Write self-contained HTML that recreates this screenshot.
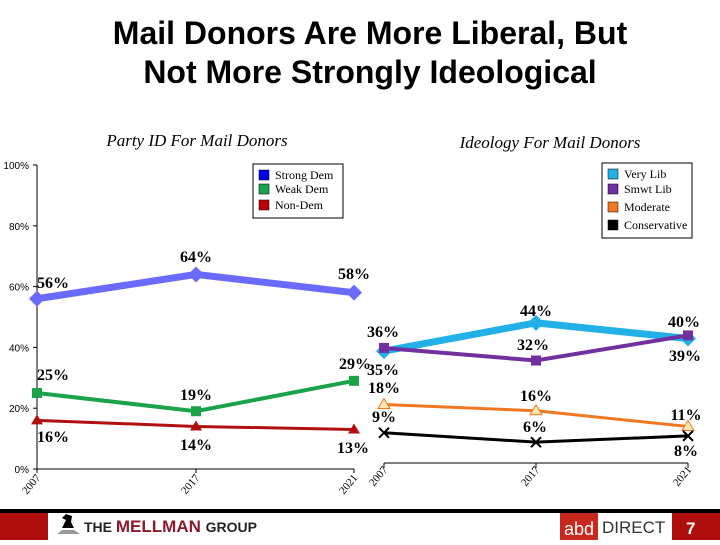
<!DOCTYPE html>
<html><head><meta charset="utf-8"><style>
body{margin:0;width:720px;height:540px;background:#fff;overflow:hidden;font-family:"Liberation Serif",serif}
</style></head><body>
<svg id="c" width="720" height="540" xmlns="http://www.w3.org/2000/svg">
<text x="370" y="44" text-anchor="middle" font-family="Liberation Sans,sans-serif" font-weight="bold" font-size="32">Mail Donors Are More Liberal, But</text>
<text x="370" y="83" text-anchor="middle" font-family="Liberation Sans,sans-serif" font-weight="bold" font-size="32">Not More Strongly Ideological</text>
<text x="197" y="146" text-anchor="middle" font-style="italic" font-size="17">Party ID For Mail Donors</text>
<text x="550" y="148" text-anchor="middle" font-style="italic" font-size="17">Ideology For Mail Donors</text>
<g id="g"></g>
<rect x="0" y="509" width="720" height="4" fill="#000"/>
<rect x="0" y="513" width="48" height="27" fill="#b00d0d"/>
<path d="M57 534 L80 534 L74 530 L62 530 Z" fill="#999"/>
<path d="M62 528 L74 528 L71 522 L72 516 L66 514 L62 518 L66 520 Z" fill="#000"/>
<text x="84" y="532" font-family="Liberation Sans,sans-serif" font-weight="bold" font-size="14"><tspan fill="#222">THE </tspan><tspan fill="#8b1a2b" font-size="17"> MELLMAN </tspan><tspan fill="#222">GROUP</tspan></text>
<rect x="560" y="513" width="38" height="27" fill="#c8281e"/>
<text x="579" y="535" text-anchor="middle" fill="#fff" font-family="Liberation Sans,sans-serif" font-size="18">abd</text>
<text x="602" y="533" fill="#333" font-family="Liberation Sans,sans-serif" font-size="17">DIRECT</text>
<rect x="672" y="513" width="48" height="27" fill="#b00d0d"/>
<text x="686" y="534" fill="#fff" font-family="Liberation Sans,sans-serif" font-weight="bold" font-size="17">7</text>
</svg>
<script>
const years=["2007","2017","2021"];
const yTicks=[0,20,40,60,80,100];
const strongDem=[56,64,58], weakDem=[25,19,29], nonDem=[16,14,13];
const veryLib=[35,44,39], smwtLib=[36,32,40], moderate=[18,16,11], conservative=[9,6,8];
const NS="http://www.w3.org/2000/svg", g=document.getElementById('g');
function mk(t,a,txt){const e=document.createElementNS(NS,t);for(const k in a)e.setAttribute(k,a[k]);if(txt!=null)e.textContent=txt;g.appendChild(e);return e;}
const Lx=i=>37+i*(i==1?159:158.5), Ly=v=>469-v*3.04;
const Rx=i=>384+i*152, Ry=v=>461-v*3.14;
let e=mk('line',{x1:37,y1:165,x2:37,y2:469,stroke:'#000'});
e=mk('line',{x1:37,y1:469,x2:354,y2:469,stroke:'#000'});
yTicks.forEach(t=>{mk('line',{x1:33,x2:37,y1:Ly(t),y2:Ly(t),stroke:'#000'});
 e=mk('text',{x:29,y:Ly(t)+4,'text-anchor':'end','font-size':10,'font-family':'Liberation Sans,sans-serif'},t+'%');});
years.forEach((y,i)=>{mk('line',{x1:Lx(i),x2:Lx(i),y1:469,y2:473,stroke:'#000'});
 e=mk('text',{x:0,y:0,'font-size':11,'text-anchor':'end',transform:`translate(${Lx(i)+4},${478}) rotate(-50)`},y);
 e=mk('text',{x:0,y:0,'font-size':11,'text-anchor':'end',transform:`translate(${Rx(i)+4},${470}) rotate(-50)`},y);
 mk('line',{x1:Rx(i),x2:Rx(i),y1:463,y2:468,stroke:'#000'});});
e=mk('line',{x1:384,y1:463,x2:688,y2:463,stroke:'#000'});
function series(vals,X,Y,col,w,marker,name){
 e=mk('polyline',{points:vals.map((v,i)=>X(i)+','+Y(v)).join(' '),fill:'none',stroke:col,'stroke-width':w});
 
 vals.forEach((v,i)=>{const x=X(i),y=Y(v);let m;
  if(marker=='d')m=mk('path',{d:`M${x} ${y-8}L${x+8} ${y}L${x} ${y+8}L${x-8} ${y}Z`,fill:col});
  else if(marker=='s')m=mk('rect',{x:x-5,y:y-5,width:10,height:10,fill:col});
  else if(marker=='t')m=mk('path',{d:`M${x} ${y-6}L${x+6} ${y+4}L${x-6} ${y+4}Z`,fill:col});
  else if(marker=='to')m=mk('path',{d:`M${x} ${y-6}L${x+6} ${y+4}L${x-6} ${y+4}Z`,fill:'#ffe8b0',stroke:col});
  else m=mk('path',{d:`M${x-5} ${y-5}L${x+5} ${y+5}M${x+5} ${y-5}L${x-5} ${y+5}`,stroke:col,'stroke-width':2});
  });}
function lbl(x,y,v,name){e=mk('text',{x:x,y:y,'font-size':16,'font-weight':'bold','text-anchor':'middle'},v+'%');}
series(strongDem,Lx,Ly,'#6a6aff',7,'d','strong-dem');
series(weakDem,Lx,Ly,'#1aa34a',4,'s','weak-dem');
series(nonDem,Lx,Ly,'#b01010',3,'t','non-dem');
series(veryLib,Rx,Ry,'#21b0e8',7,'d','very-lib');
series(smwtLib,Rx,Ry,'#7030a0',4,'s','smwt-lib');
series(moderate,Rx,Ry,'#f07820',3,'to','moderate');
series(conservative,Rx,Ry,'#000',3,'x','conservative');
lbl(53,288,strongDem[0],'strong-dem');lbl(196,262,strongDem[1],'strong-dem');lbl(354,279,strongDem[2],'strong-dem');
lbl(53,380,weakDem[0],'weak-dem');lbl(196,400,weakDem[1],'weak-dem');lbl(355,369,weakDem[2],'weak-dem');
lbl(53,442,nonDem[0],'non-dem');lbl(196,450,nonDem[1],'non-dem');lbl(353,453,nonDem[2],'non-dem');
lbl(383,337,smwtLib[0],'smwt-lib');lbl(533,350,smwtLib[1],'smwt-lib');lbl(684,327,smwtLib[2],'smwt-lib');
lbl(383,375,veryLib[0],'very-lib');lbl(536,316,veryLib[1],'very-lib');lbl(685,361,veryLib[2],'very-lib');
lbl(384,393,moderate[0],'moderate');lbl(536,401,moderate[1],'moderate');lbl(686,420,moderate[2],'moderate');
lbl(384,422,conservative[0],'conservative');lbl(535,432,conservative[1],'conservative');lbl(686,456,conservative[2],'conservative');
function legend(x,y,w,h,items,name){e=mk('rect',{x:x,y:y,width:w,height:h,fill:'#fff',stroke:'#000'});
 items.forEach((it,i)=>{const yy=y+6+it[2];mk('rect',{x:x+6,y:yy,width:10,height:10,fill:it[1],stroke:'#000','stroke-width':0.5});
 e=mk('text',{x:x+22,y:yy+9,'font-size':12},it[0]);});}
legend(253,164,90,54,[['Strong Dem','#0000ee',0],['Weak Dem','#1aa34a',14],['Non-Dem','#c00000',30]],'left-legend');
legend(602,163,90,75,[['Very Lib','#21b0e8',0],['Smwt Lib','#7030a0',15],['Moderate','#f07820',33],['Conservative','#000',51]],'right-legend');
</script>
</body></html>
